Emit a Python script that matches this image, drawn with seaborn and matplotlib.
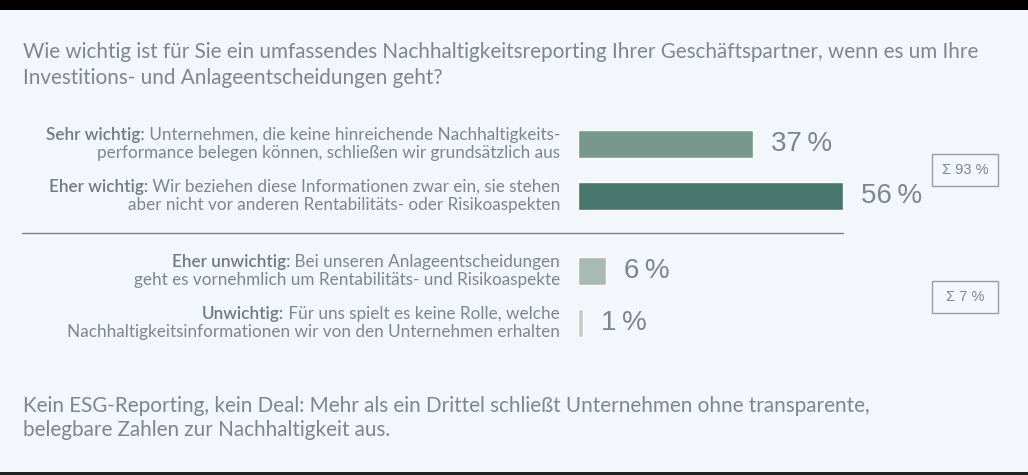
import matplotlib
matplotlib.use("Agg")
import matplotlib.pyplot as plt
import seaborn as sns
import pandas as pd

# ---------------- data ----------------
title_lines = ["Wie wichtig ist für Sie ein umfassendes Nachhaltigkeitsreporting Ihrer Geschäftspartner, wenn es um Ihre",
               "Investitions- und Anlageentscheidungen geht?"]
footer_lines = ["Kein ESG-Reporting, kein Deal: Mehr als ein Drittel schließt Unternehmen ohne transparente,",
                "belegbare Zahlen zur Nachhaltigkeit aus."]

categories = ["Sehr wichtig", "Eher wichtig", "Eher unwichtig", "Unwichtig"]
prefixes = ["Sehr wichtig:", "Eher wichtig:", "Eher unwichtig:", "Unwichtig:"]
line1_rest = [" Unternehmen, die keine hinreichende Nachhaltigkeits-",
              " Wir beziehen diese Informationen zwar ein, sie stehen",
              " Bei unseren Anlageentscheidungen",
              " Für uns spielt es keine Rolle, welche"]
line2 = ["performance belegen können, schließen wir grundsätzlich aus",
         "aber nicht vor anderen Rentabilitäts- oder Risikoaspekten",
         "geht es vornehmlich um Rentabilitäts- und Risikoaspekte",
         "Nachhaltigkeitsinformationen wir von den Unternehmen erhalten"]
values = [37, 56, 6, 1]
groups = ["wichtig", "wichtig", "unwichtig", "unwichtig"]
group_sums = ["Σ 93 %", "Σ 7 %"]
bar_colors = ["#739d90", "#3e7e70", "#a6bcb5", "#c5c8cc"]

df = pd.DataFrame({"cat": categories, "val": values, "grp": groups})

# ---------------- style ----------------
BG = "#f3f6fa"
TXT = "#80868d"
sns.set_theme(style="white")
plt.rcParams["font.family"] = ["Lato", "DejaVu Sans"]

W, H = 1028, 475
fig = plt.figure(figsize=(W / 100, H / 100), dpi=100)
fig.patch.set_facecolor(BG)

def fx(x):
    return x / W

def fy(y):
    return 1 - y / H

# top black strip and bottom line
fig.patches.append(plt.Rectangle((0, fy(10)), 1, 10 / H, transform=fig.transFigure,
                                 facecolor="black", edgecolor="none"))
fig.patches.append(plt.Rectangle((0, 0), 1, 3 / H, transform=fig.transFigure,
                                 facecolor="#222222", edgecolor="none"))

BIG = 14.9
for txt, yc in zip(title_lines, [52, 78]):
    fig.text(fx(23), fy(yc), txt, fontsize=BIG, color=TXT, ha="left", va="center")
for txt, yc in zip(footer_lines, [406, 430]):
    fig.text(fx(23), fy(yc), txt, fontsize=BIG, color=TXT, ha="left", va="center")

# ---------------- bars ----------------
PX_PER_PCT = 4.73
ax_left = 578
ax_w = W - ax_left
xmax = ax_w / PX_PER_PCT

def make_ax(y_top, y_bot, sub, cols):
    ax = fig.add_axes([fx(ax_left), fy(y_bot), fx(ax_w), (y_bot - y_top) / H])
    sns.barplot(data=sub, x="val", y="cat", hue="cat", palette=cols, legend=False,
                width=28 / 52, ax=ax, orient="h")
    ax.set_xlim(0, xmax)
    ax.set_ylim(1.5, -0.5)
    ax.set_facecolor("none")
    ax.axis("off")
    for p, v in zip(ax.patches, sub["val"]):
        ax.text(p.get_width() + 18 / PX_PER_PCT, p.get_y() + p.get_height() / 2,
                f"{v}\u2009%", fontsize=20, color=TXT, va="center", ha="left",
                family=["Liberation Sans", "DejaVu Sans"])
    return ax

top = df[df.grp == "wichtig"]
bot = df[df.grp == "unwichtig"]
make_ax(118, 222, top, bar_colors[:2])
make_ax(245, 349, bot, bar_colors[2:])

# separator
fig.add_artist(plt.Line2D([fx(22), fx(843)], [fy(233), fy(233)], color="#7d8288", lw=1.0))

# ---------------- labels ----------------
fig.canvas.draw()
renderer = fig.canvas.get_renderer()
centers = [144, 196, 271, 323]
LBL = 12.3
for i, c in enumerate(centers):
    t = fig.text(fx(560), fy(c - 9), line1_rest[i], fontsize=LBL, color=TXT,
                 ha="right", va="center")
    bb = t.get_window_extent(renderer)
    fig.text(bb.x0 / W, fy(c - 9), prefixes[i], fontsize=LBL, color="#747a81",
             ha="right", va="center", fontweight="semibold")
    fig.text(fx(560), fy(c + 9), line2[i], fontsize=LBL, color=TXT,
             ha="right", va="center")

# sum boxes
for s, yc in zip(group_sums, [170, 297]):
    fig.text(fx(965), fy(yc), s, fontsize=10.5, color=TXT, ha="center", va="center",
             family=["Liberation Sans", "DejaVu Sans"])
    fig.patches.append(plt.Rectangle((fx(932), fy(yc + 16)), fx(66), 32 / H,
                                     transform=fig.transFigure, facecolor="none",
                                     edgecolor="#9a9ea3", lw=1.0))

fig.savefig("out.png", dpi=100, facecolor=BG)
